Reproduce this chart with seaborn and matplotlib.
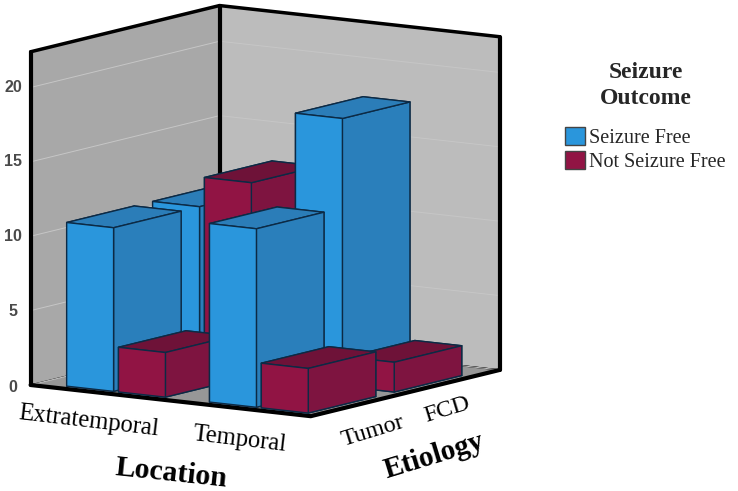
import seaborn as sns
import matplotlib.pyplot as plt
from matplotlib.patches import Patch

locations = ["Extratemporal", "Temporal"]
etiologies = ["Tumor", "FCD"]
outcomes = ["Seizure Free", "Not Seizure Free"]

# one list per etiology, per location: [free, not free]
tumor_values = [[11, 3], [12, 3]]
fcd_values = [[11, 13], [18, 2]]
z_ticks = [0, 5, 10, 15, 20]

sns.set_theme(style="white")
plt.rcParams['font.family'] = ['Liberation Serif', 'DejaVu Sans']

# faces: bottom, top, front, back, left, right
blue = ['#2a7fbb', '#2b7db8', '#2a96dc', '#2a7fbb', '#2a96dc', '#2a7fbb']
red = ['#7e1440', '#6e1238', '#911444', '#7e1440', '#911444', '#7e1440']
palette = sns.color_palette([blue[2], red[2]])

fig = plt.figure(figsize=(7.38, 4.91), dpi=100)
ax = fig.add_axes([13 / 738, 28 / 491, 491 / 738, 1], projection='3d',
                  computed_zorder=False)
ax.set_proj_type('ortho')
ax.view_init(elev=9.5, azim=-56)
ax.set_box_aspect((1, 1, 1), zoom=1.157)
ax.set_xlim(0, 2)
ax.set_ylim(0, 2)
ax.set_zlim(0, 22.4)

# walls
ax.xaxis.set_pane_color('#a8a8a8')
ax.yaxis.set_pane_color('#bcbcbc')
ax.zaxis.set_pane_color('#979797')
for axis in (ax.xaxis, ax.yaxis, ax.zaxis):
    axis.pane.set_edgecolor((0, 0, 0, 0))
    axis.line.set_color((0, 0, 0, 0))
ax.set_xticks([])
ax.set_yticks([])
ax.set_zticks(z_ticks)
ax.set_zticklabels([])
ax.tick_params(length=0)
ax.zaxis._axinfo['grid'].update(color='#c6c6c6', linewidth=0.7)
ax.zaxis._axinfo['tick'].update(inward_factor=0, outward_factor=0)

# box outline, under the bars
top = ax.get_zlim()[1]
for cx, cy in [(0, 0), (0, 2), (2, 2)]:
    ax.plot([cx, cx], [cy, cy], [0, top], color='black', lw=3, zorder=2)
ax.plot([0, 0, 2], [0, 2, 2], [top, top, top], color='black', lw=2.5, zorder=2)
ax.plot([0, 2, 2], [0, 0, 2], [0, 0, 0], color='black', lw=3, zorder=2)

# bars, back row first so the front ones cover them
bar_w = 0.335
bar_d = 0.715
z = 5
for iy, values in reversed(list(enumerate([tumor_values, fcd_values]))):
    for ix, pair in enumerate(values):
        for k, val in enumerate(pair):
            ax.bar3d(ix * 1.02 + 0.2 + k * 0.37, iy * 0.91 + 0.085, 0,
                     bar_w, bar_d, val,
                     color=[blue, red][k], shade=False,
                     edgecolor='#0c2a45', linewidth=1.0, zorder=z)
            z += 1

def label(px, py, txt, size, rot=0, **kw):
    fig.text(px / 738, 1 - py / 491, txt, fontsize=size, rotation=rot,
             rotation_mode='anchor', ha='center', va='center', **kw)

for v, py in zip(z_ticks, [388, 311, 236, 161, 88]):
    label(13, py, str(v), 11.5, color='#4a4a4a', family='Liberation Sans',
          fontweight='bold')

label(89, 421, locations[0], 17.7, -6.7, color='black')
label(240, 440, locations[1], 17.7, -6.7, color='black')
label(373, 431, etiologies[0], 17.4, 17, color='black')
label(447, 410, etiologies[1], 17.4, 17, color='black')
label(171, 473, "Location", 21.4, -6, color='black', fontweight='bold')
label(434, 456, "Etiology", 21, 17, color='black', fontweight='bold')

handles = [Patch(facecolor=palette[i], edgecolor='#444444', label=outcomes[i])
           for i in range(2)]
leg = fig.legend(handles=handles, title="Seizure\nOutcome", frameon=False,
                 loc='upper left', bbox_to_anchor=(565 / 738, 1 - 62 / 491),
                 fontsize=14.5, handlelength=1.0, handleheight=1.0,
                 handletextpad=0.2, labelspacing=0.15, borderaxespad=0,
                 borderpad=0)
leg.get_title().set_fontsize(17)
leg.get_title().set_fontweight('bold')
leg.get_title().set_multialignment('center')
leg.get_title().set_linespacing(1.3)
leg._legend_box.sep = 13

fig.savefig("out.png", dpi=100)
